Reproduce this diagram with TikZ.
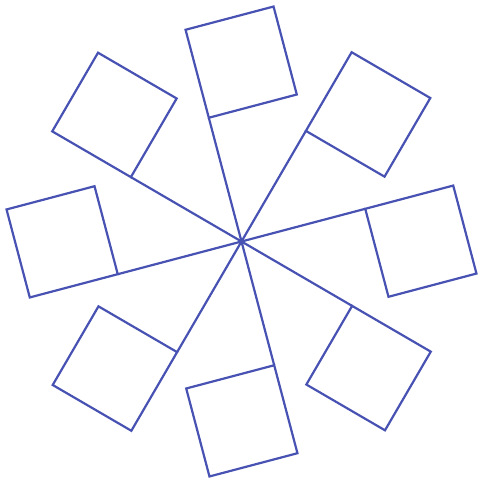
\documentclass[tikz,border=0pt]{standalone}
\definecolor{spk}{RGB}{72,82,178}
\begin{document}
\begin{tikzpicture}[x=0.5pt,y=-0.5pt,
  spoke/.style={draw=spk,line width=1.1pt,line join=miter}]
\useasboundingbox (0,0) rectangle (478,481);
\coordinate (c) at (241.5,241.5);
\foreach \a in {0,45,...,315} {
  \begin{scope}[shift={(c)}, rotate=\a+14.8]
    \coordinate (i) at (128,0);
    \coordinate (o) at (219,0);
    \draw[spoke] (0,0) -- (i);
    \draw[spoke] (i) -- (o) -- ++(0,91) -- ++(-91,0) -- cycle;
  \end{scope}
}
\end{tikzpicture}
\end{document}
